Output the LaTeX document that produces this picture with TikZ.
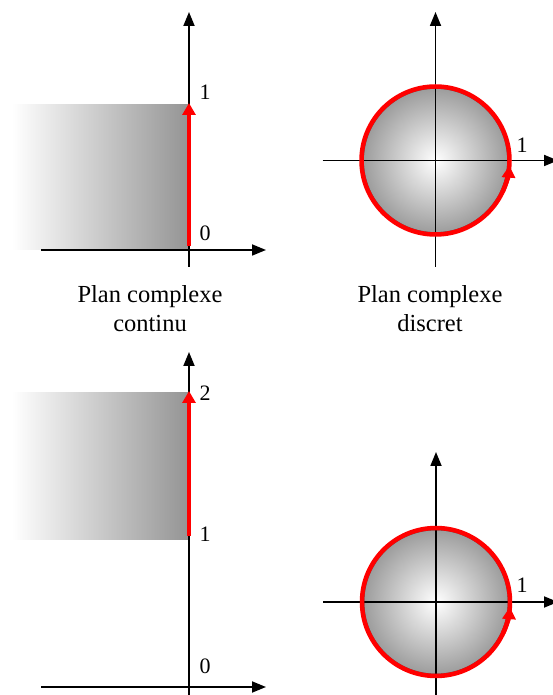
\documentclass[tikz,border=0pt]{standalone}
\usepackage{fontspec}
\setmainfont{Liberation Serif}
\usetikzlibrary{arrows.meta,calc}

\definecolor{rouge}{RGB}{255,0,0}
\pgfdeclareradialshading{disque}{\pgfpoint{0bp}{0bp}}{color(0bp)=(white); color(26bp)=(black!40); color(50bp)=(black!45)}

\tikzset{
  axe/.style={line width=1.8pt,-{Triangle[length=14pt,width=11pt]}},
  trajet/.style={rouge,line width=4.5pt},
  pointe/.style={-{Triangle[length=12pt,width=13pt]}},
  bande/.style={left color=white,right color=black!42},
  chiffre/.style={font=\fontsize{22}{24}\selectfont},
  legende/.style={align=center,font=\fontsize{24.5}{29}\selectfont}
}

\begin{document}
\begin{tikzpicture}[x=1pt,y=1pt]
\useasboundingbox (0,0) rectangle (552,695);

% Plan continu (haut)
\shade[bande] (12,445) rectangle (189,590);
\coordinate (y1b) at (189,428);
\coordinate (y1h) at (189,683);
\coordinate (x1g) at (41,445);
\coordinate (x1d) at (266,445);
\draw[axe] (y1b) -- (y1h);
\draw[axe] (x1g) -- (x1d);
\coordinate (a1) at (189,449);
\coordinate (b1) at (189,592);
\draw[trajet,pointe] (a1) -- (b1);
\node[chiffre] (un1) at (205,603) {1};
\node[chiffre] (zero1) at (205,462) {0};

% Plan discret (haut)
\coordinate (C1) at (435.5,534.5);
\shade[shading=disque] (C1) circle (72);
\draw[black!70,line width=0.6pt] (C1) circle (72);
\coordinate (y2b) at (435.5,428);
\coordinate (y2h) at (435.5,683);
\coordinate (x2g) at (322.5,534.5);
\coordinate (x2d) at (558,534.5);
\draw[axe] (y2b) -- (y2h);
\draw[axe] (x2g) -- (x2d);
\draw[trajet] (C1) circle (74);
\draw[trajet,pointe] ($(C1)+(-25:74)$) arc (-25:-4:74);
\node[chiffre] (un2) at (522,550) {1};

% Legendes
\node[legende] (leg1) at (150,386) {Plan complexe\\continu};
\node[legende] (leg2) at (430,386) {Plan complexe\\discret};

% Plan continu (bas)
\shade[bande] (12,155) rectangle (189,302);
\coordinate (y3b) at (189,-5);
\coordinate (y3h) at (189,343);
\coordinate (x3g) at (41,8);
\coordinate (x3d) at (266,8);
\draw[axe] (y3b) -- (y3h);
\draw[axe] (x3g) -- (x3d);
\coordinate (a3) at (189,159);
\coordinate (b3) at (189,304);
\draw[trajet,pointe] (a3) -- (b3);
\node[chiffre] (deux3) at (205,302) {2};
\node[chiffre] (un3) at (205,161) {1};
\node[chiffre] (zero3) at (205,29) {0};

% Plan discret (bas)
\coordinate (C2) at (436,93);
\shade[shading=disque] (C2) circle (72);
\draw[black!70,line width=0.6pt] (C2) circle (72);
\coordinate (y4b) at (436,-5);
\coordinate (y4h) at (436,243);
\coordinate (x4g) at (323,93);
\coordinate (x4d) at (558,93);
\draw[axe] (y4b) -- (y4h);
\draw[axe] (x4g) -- (x4d);
\draw[trajet] (C2) circle (74);
\draw[trajet,pointe] ($(C2)+(-25:74)$) arc (-25:-4:74);
\node[chiffre] (un4) at (522,110) {1};

\end{tikzpicture}
\end{document}
